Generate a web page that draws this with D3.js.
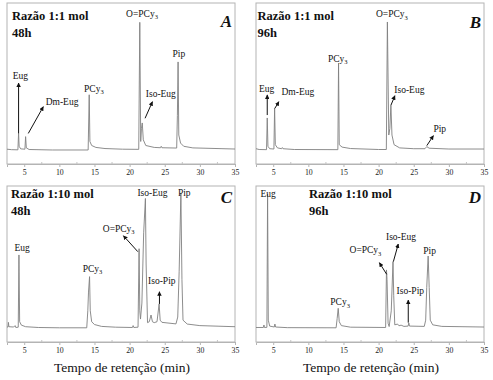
<!DOCTYPE html>
<html>
<head>
<meta charset="utf-8">
<script src="https://cdn.jsdelivr.net/npm/d3@7"></script>
<style>
  body { margin: 0; background: #fff; }
  svg text { font-family: "Liberation Serif", "Times New Roman", serif; }
</style>
</head>
<body>
<script>
// retention time axis (min)
var timeDomain = [2.55, 35];
var majorTicks = [5, 10, 15, 20, 25, 30, 35];
var minorTicks = [7.5, 12.5, 17.5, 22.5, 27.5, 32.5];
var axisTitle = 'Tempo de retenção (min)';

// chromatogram traces, [time (min), relative intensity]
var traceA = [[2.55, 9.2], [3.2, 8.9], [4.1, 8.8], [4.2, 19], [4.28, 11], [4.5, 9.4], [5.1, 9.2], [5.2, 17], [5.3, 10],
  [5.7, 9.0], [9, 8.7], [14.1, 8.7], [14.25, 43], [14.35, 14], [14.6, 11.5], [15.2, 10.3], [16.5, 9.6], [19, 9.2],
  [21.3, 9.1], [21.45, 88], [21.58, 14], [21.68, 22], [21.8, 25.5], [21.95, 15], [22.3, 11.5], [23.5, 10.3],
  [24.4, 10.1], [24.5, 11], [24.6, 10.1], [26.7, 9.9], [26.8, 30], [26.9, 63.4], [27.0, 18], [27.25, 13],
  [27.7, 11], [29, 10], [35, 9.3]];
var traceB = [[2.55, 9.5], [3.0, 9.0], [4.05, 8.9], [4.15, 28.6], [4.25, 11], [4.5, 9.5], [5.1, 9.3], [5.2, 34.8],
  [5.3, 12], [5.6, 10], [6.2, 9.5], [6.3, 10.2], [6.4, 9.5], [8, 9.0], [14.2, 8.9], [14.3, 62.7], [14.4, 12],
  [14.8, 10.5], [16, 9.6], [20, 9.0], [21.1, 9.0], [21.25, 88.2], [21.45, 18], [21.6, 22], [21.75, 36.6],
  [21.9, 18], [22.2, 12], [23, 10], [25, 9.5], [26.6, 9.5], [26.85, 10.8], [27.2, 9.8], [30, 9.3], [35, 9.3]];
var traceC = [[2.55, 9.6], [2.7, 9.6], [2.75, 12.6], [2.82, 9.8], [3.5, 9.6], [3.7, 10.5], [3.8, 9.3], [4.15, 9.5],
  [4.25, 55.8], [4.35, 13], [4.6, 10.8], [5.2, 9.8], [7, 9.3], [10, 9.1], [13.9, 9.1], [14.05, 20], [14.15, 32],
  [14.3, 41.9], [14.4, 20], [14.6, 13], [15.0, 11.2], [16, 10], [18, 9.5], [20.4, 9.3], [20.5, 10.5], [20.6, 9.3],
  [21.2, 9.5], [21.35, 59.8], [21.45, 20], [21.55, 14.7], [21.75, 25], [22.0, 70], [22.25, 92], [22.35, 50],
  [22.55, 12.4], [22.8, 13], [23.05, 17.3], [23.25, 13], [23.5, 12.4], [23.9, 13], [24.2, 24.4], [24.35, 14],
  [24.6, 12.6], [26.6, 11.6], [26.85, 16], [27.05, 45], [27.3, 95.5], [27.45, 40], [27.6, 14], [28.2, 11.5],
  [30, 10.5], [35, 9.8]];
var traceD = [[2.55, 9.3], [3.6, 9.3], [3.68, 10.9], [3.76, 9.3], [4.1, 9.4], [4.2, 94.9], [4.3, 14], [4.5, 10.2],
  [5.15, 9.6], [5.24, 11.5], [5.34, 9.6], [7, 9.2], [13.95, 9.1], [14.1, 15], [14.25, 21.6], [14.4, 13],
  [14.7, 10.5], [16, 9.5], [21.0, 9.3], [21.12, 46.2], [21.2, 40], [21.35, 12], [21.5, 9.9], [21.8, 20],
  [22.05, 51.5], [22.15, 30], [22.3, 11], [22.7, 11.5], [22.9, 10.4], [23.2, 10.8], [23.6, 10], [24.2, 10.2],
  [24.3, 12.2], [24.4, 10.2], [26.5, 10], [26.7, 14], [26.85, 35], [27.05, 55.1], [27.2, 35], [27.35, 14],
  [27.7, 11], [29, 10], [35, 9.6]];

// peak names: [text, time, intensity] (text start, "_3" = subscript)
var labelsA = [['Eug', 3.36, 52.8], ['Dm-Eug', 8.06, 36.6], ['PCy_3', 13.52, 44.9], ['O=PCy_3', 19.5, 91.5],
  ['Iso-Eug', 22.3, 41.8], ['Pip', 26.1, 66.3]];
var labelsB = [['Eug', 2.97, 44.9], ['Dm-Eug', 6.18, 42.9], ['PCy_3', 12.79, 63.5], ['O=PCy_3', 19.63, 91.1],
  ['Iso-Eug', 22.24, 43.9], ['Pip', 27.8, 20]];
var labelsC = [['Eug', 3.6, 58.5], ['PCy_3', 13.33, 45.1], ['O=PCy_3', 16.18, 70.7], ['Iso-Eug', 21.11, 93.6],
  ['Iso-Pip', 22.63, 37.2], ['Pip', 26.87, 93.8]];
var labelsD = [['Eug', 3.2, 93.1], ['PCy_3', 13.12, 23.7], ['O=PCy_3', 15.86, 56.8], ['Iso-Eug', 21.05, 65.4],
  ['Iso-Pip', 22.56, 30.8], ['Pip', 26.35, 56.4]];

// arrows: [t from, v from, t to, v to]
var arrowsA = [[4.2, 19, 4.2, 50.3], [5.58, 19, 7.72, 35.6], [22.2, 28.4, 23.25, 38.7]];
var arrowsB = [[4.15, 30.4, 4.15, 42.9], [5.24, 34.6, 5.81, 38.7], [21.76, 36.6, 22.32, 42.4], [26.86, 11.4, 27.8, 17.6]];
var arrowsC = [[21.17, 57.9, 19.12, 68.1], [24.25, 24.4, 24.25, 32.2]];
var arrowsD = [[21.15, 43.4, 20.11, 50.8], [22.1, 51.5, 22.8, 62.8], [24.22, 12.4, 24.22, 26.9]];

var titlesA = ['Razão 1:1 mol', '48h'];
var titlesB = ['Razão 1:1 mol', '96h'];
var titlesC = ['Razão 1:10 mol', '48h'];
var titlesD = ['Razão 1:10 mol', '96h'];

var svg = d3.select('body').append('svg')
  .attr('width', 493)
  .attr('height', 380);

svg.append('defs').append('marker')
    .attr('id', 'head')
    .attr('viewBox', '0 0 10 10')
    .attr('refX', 9).attr('refY', 5)
    .attr('markerWidth', 4.5).attr('markerHeight', 4.5)
    .attr('markerUnits', 'userSpaceOnUse')
    .attr('orient', 'auto')
  .append('path')
    .attr('d', 'M0,0L10,5L0,10z')
    .attr('fill', '#111');

var panels = [
  {trace: traceA, labels: labelsA, arrows: arrowsA, titles: titlesA, letter: 'A',
    left: 7, right: 235, top: 3, bottom: 164, tx: 5, ty: 16.7, ly: 24, xTitle: false},
  {trace: traceB, labels: labelsB, arrows: arrowsB, titles: titlesB, letter: 'B',
    left: 256, right: 484, top: 3, bottom: 164, tx: 1.5, ty: 16.7, ly: 25, xTitle: false},
  {trace: traceC, labels: labelsC, arrows: arrowsC, titles: titlesC, letter: 'C',
    left: 7, right: 235, top: 186, bottom: 342, tx: 4, ty: 12.3, ly: 16.5, xTitle: true},
  {trace: traceD, labels: labelsD, arrows: arrowsD, titles: titlesD, letter: 'D',
    left: 256, right: 484, top: 186, bottom: 342, tx: 53, ty: 11.7, ly: 17, xTitle: true}
];

panels.forEach(function(p) {
  var x = d3.scaleLinear().domain(timeDomain).range([p.left, p.right]);
  var y = d3.scaleLinear().domain([0, 100]).range([p.bottom, p.top]);
  var g = svg.append('g');

  // frame
  g.append('rect')
    .attr('x', p.left).attr('y', p.top)
    .attr('width', p.right - p.left).attr('height', p.bottom - p.top)
    .attr('fill', 'none').attr('stroke', '#b4b4b4').attr('stroke-width', 1);

  // axis
  var axis = d3.axisBottom(x).tickValues(majorTicks).tickSize(3).tickPadding(2);
  var ax = g.append('g').attr('transform', 'translate(0,' + p.bottom + ')').call(axis);
  ax.attr('font-family', null);
  ax.select('.domain').attr('stroke', '#b4b4b4');
  ax.selectAll('.tick line').attr('stroke', '#b4b4b4');
  ax.selectAll('.tick text')
    .attr('font-size', 7.8).attr('fill', '#222');
  g.append('g').selectAll('line').data(minorTicks).join('line')
    .attr('x1', d => x(d)).attr('x2', d => x(d))
    .attr('y1', p.bottom).attr('y2', p.bottom - 2)
    .attr('stroke', '#c4c4c4');

  // trace
  var line = d3.line().x(d => x(d[0])).y(d => y(d[1]));
  g.append('path').datum(p.trace)
    .attr('d', line)
    .attr('fill', 'none').attr('stroke', '#808080').attr('stroke-width', 0.9)
    .attr('stroke-linejoin', 'round');

  // arrows
  g.selectAll('.arrow').data(p.arrows).join('line')
    .attr('class', 'arrow')
    .attr('x1', d => x(d[0])).attr('y1', d => y(d[1]))
    .attr('x2', d => x(d[2])).attr('y2', d => y(d[3]))
    .attr('stroke', '#111').attr('stroke-width', 1)
    .attr('marker-end', 'url(#head)');

  // peak labels
  var lab = g.selectAll('.lab').data(p.labels).join('text')
    .attr('class', 'lab')
    .attr('x', d => x(d[1])).attr('y', d => y(d[2]))
    .attr('font-size', 9.5).attr('fill', '#111');
  lab.each(function(d) {
    var parts = d[0].split('_');
    var t = d3.select(this);
    t.append('tspan').text(parts[0]);
    if (parts[1]) {
      t.append('tspan').attr('font-size', 6.5).attr('dy', 2.5).text(parts[1]);
    }
  });

  // panel titles
  p.titles.forEach(function(s, i) {
    g.append('text')
      .attr('x', p.left + p.tx).attr('y', p.top + p.ty + i * 17)
      .attr('font-size', 12.5).attr('font-weight', 'bold').attr('fill', '#111')
      .text(s);
  });
  g.append('text')
    .attr('x', p.right - 3).attr('y', p.top + p.ly)
    .attr('text-anchor', 'end')
    .attr('font-size', 17).attr('font-weight', 'bold').attr('font-style', 'italic').attr('fill', '#111')
    .text(p.letter);

  if (p.xTitle) {
    g.append('text')
      .attr('x', (p.left + p.right) / 2 + 1).attr('y', p.bottom + 29.5)
      .attr('text-anchor', 'middle')
      .attr('font-size', 13.5).attr('fill', '#111')
      .text(axisTitle);
  }
});
</script>
</body>
</html>
